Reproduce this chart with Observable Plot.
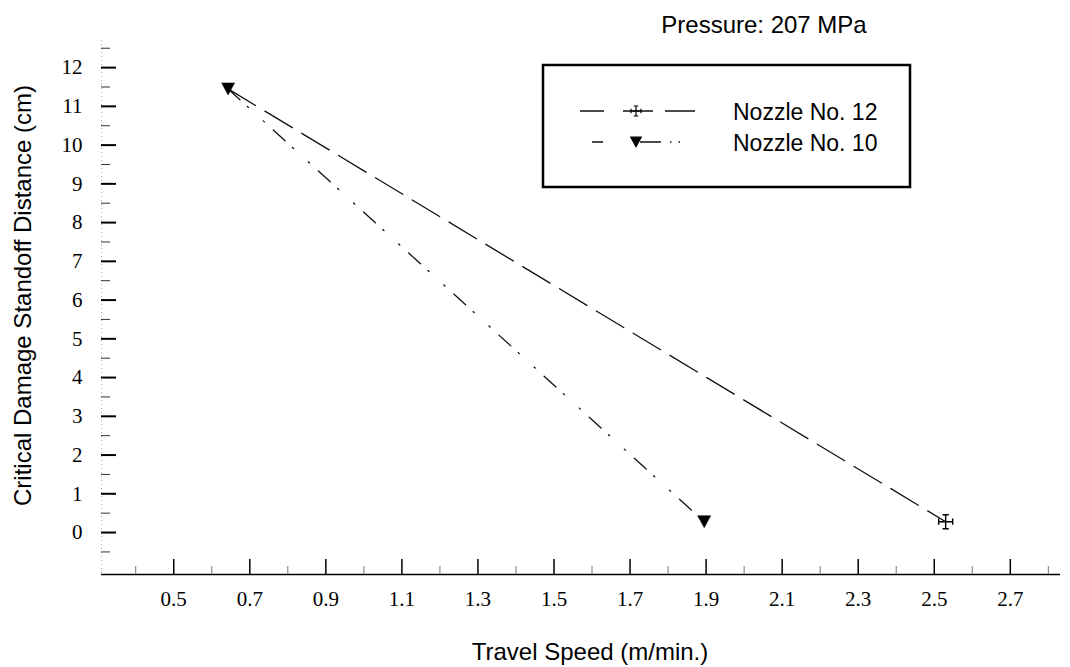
<!DOCTYPE html>
<html><head><meta charset="utf-8">
<script src="https://cdn.jsdelivr.net/npm/d3@7"></script>
<script src="https://cdn.jsdelivr.net/npm/@observablehq/plot@0.6"></script>
<style>html,body{margin:0;padding:0;background:#fff}svg{display:block}</style>
</head><body><div id="chart"></div>
<script>
// ---- data ----
const seriesNames = ["Nozzle No. 12", "Nozzle No. 10"];
const nozzle12Speed = [0.643, 2.53];
const nozzle12Distance = [11.45, 0.28];
const nozzle10Speed = [0.643, 1.895];
const nozzle10Distance = [11.45, 0.28];
const xTickValues = [0.5, 0.7, 0.9, 1.1, 1.3, 1.5, 1.7, 1.9, 2.1, 2.3, 2.5, 2.7];
const xMinorTickValues = [0.4, 0.6, 0.8, 1.0, 1.2, 1.4, 1.6, 1.8, 2.0, 2.2, 2.4, 2.6, 2.8];
const yTickValues = [0, 1, 2, 3, 4, 5, 6, 7, 8, 9, 10, 11, 12];
const yMinorTickValues = [-0.5, 0.5, 1.5, 2.5, 3.5, 4.5, 5.5, 6.5, 7.5, 8.5, 9.5, 10.5, 11.5, 12.5];
const xDomain = [0.31, 2.832];
const yDomain = [-1.083, 12.7];
const titleText = "Pressure: 207 MPa";
const xLabelText = "Travel Speed (m/min.)";
const yLabelText = "Critical Damage Standoff Distance (cm)";

// ---- build tables ----
const nozzle12 = nozzle12Speed.map((s, i) => ({speed: s, distance: nozzle12Distance[i], series: seriesNames[0]}));
const nozzle10 = nozzle10Speed.map((s, i) => ({speed: s, distance: nozzle10Distance[i], series: seriesNames[1]}));

// custom symbols
const crossWithCaps = {
  draw(ctx, size) {
    const r = Math.sqrt(size / Math.PI), c = r * 0.45;
    ctx.moveTo(-r, 0); ctx.lineTo(r, 0);
    ctx.moveTo(0, -r); ctx.lineTo(0, r);
    ctx.moveTo(-r, -c); ctx.lineTo(-r, c);
    ctx.moveTo(r, -c); ctx.lineTo(r, c);
    ctx.moveTo(-c, -r); ctx.lineTo(c, -r);
    ctx.moveTo(-c, r); ctx.lineTo(c, r);
  }
};
const triangleDown = {
  draw(ctx, size) {
    const r = Math.sqrt(size / Math.PI), w = 2.6 * r, h = 2.4 * r;
    ctx.moveTo(-w / 2, -h / 2); ctx.lineTo(w / 2, -h / 2); ctx.lineTo(0, h / 2); ctx.closePath();
  }
};

const W = 1070, H = 667, mL = 101, mR = 10, mT = 40, mB = 93;
const fw = W - mL - mR, fh = H - mT - mB;
const sans = "'Liberation Sans', Arial, sans-serif";
const serif = "'Liberation Serif', 'Times New Roman', serif";

const chart = Plot.plot({
  width: W, height: H,
  marginLeft: mL, marginRight: mR, marginTop: mT, marginBottom: mB,
  style: {background: "#fff", color: "#000"},
  x: {domain: xDomain},
  y: {domain: yDomain},
  marks: [
    // faint y axis line
    Plot.ruleX([xDomain[0]], {stroke: "#999", strokeWidth: 0.8, strokeDasharray: "1,3"}),
    // x axis line
    Plot.ruleY([yDomain[0]], {stroke: "#000", strokeWidth: 1.6}),
    // y ticks (inward)
    Plot.tickY(yTickValues, {y: d => d, insetRight: fw - 15, stroke: "#000", strokeWidth: 2}),
    Plot.tickY(yMinorTickValues, {y: d => d, insetRight: fw - 9, stroke: "#333", strokeWidth: 1}),
    // x ticks (inward)
    Plot.tickX(xTickValues, {x: d => d, insetTop: fh - 15, stroke: "#000", strokeWidth: 1.5}),
    Plot.tickX(xMinorTickValues, {x: d => d, insetTop: fh - 8, stroke: "#777", strokeWidth: 1}),
    // tick labels
    Plot.axisX(xTickValues, {tickSize: 0, tickPadding: 17, fontSize: 21, fontFamily: serif, tickFormat: d3.format(".1f"), label: null}),
    Plot.axisY(yTickValues, {tickSize: 0, tickPadding: 19, fontSize: 21, fontFamily: serif, label: null}),
    // lines
    Plot.line(nozzle12, {x: "speed", y: "distance", stroke: "#111", strokeWidth: 1.3, strokeDasharray: "32,11"}),
    Plot.line(nozzle10, {x: "speed", y: "distance", stroke: "#111", strokeWidth: 1.3, strokeDasharray: "16,10,1.5,20,1.5,12"}),
    // markers
    Plot.dot(nozzle12.slice(1), {x: "speed", y: "distance", symbol: crossWithCaps, r: 7, fill: "none", stroke: "#000", strokeWidth: 1.4}),
    Plot.dot(nozzle10, {x: "speed", y: "distance", symbol: triangleDown, r: 5, fill: "#000", stroke: "#000", strokeWidth: 0.5}),
    // titles
    Plot.text([titleText], {frameAnchor: "top", dx: 183, dy: -15, fontSize: 24, fontFamily: sans, lineAnchor: "middle", textAnchor: "middle"}),
    Plot.text([xLabelText], {frameAnchor: "bottom", dx: 9, dy: 78, fontSize: 24, fontFamily: sans, lineAnchor: "middle", textAnchor: "middle"}),
    Plot.text([yLabelText], {frameAnchor: "left", dx: -78, dy: -12, rotate: -90, fontSize: 24, fontFamily: sans, lineAnchor: "middle", textAnchor: "middle"})
  ]
});

// ---- legend box (drawn on the same svg) ----
const svg = d3.select(chart);
const lg = svg.append("g").attr("class", "legend").attr("text-anchor", "start");
lg.append("rect").attr("x", 543).attr("y", 65).attr("width", 367).attr("height", 122)
  .attr("fill", "none").attr("stroke", "#000").attr("stroke-width", 2.5);
const legendRows = [
  {name: seriesNames[0], y: 111, x1: 580, x2: 695, dash: "24,19,30,12,30", symbol: crossWithCaps, r: 5, fill: "none", stroke: "#000"},
  {name: seriesNames[1], y: 142, x1: 592, x2: 682, dash: "11,37,21,9,1.5,7,1.5", symbol: triangleDown, r: 4, fill: "#000", stroke: "#000"}
];
legendRows.forEach(row => {
  lg.append("line").attr("x1", row.x1).attr("x2", row.x2).attr("y1", row.y).attr("y2", row.y)
    .attr("stroke", "#111").attr("stroke-width", 1.3).attr("stroke-dasharray", row.dash);
  lg.append("path").attr("transform", `translate(636,${row.y})`)
    .attr("d", d3.symbol(row.symbol, row.r * row.r * Math.PI)())
    .attr("fill", row.fill).attr("stroke", row.stroke).attr("stroke-width", 1.2);
  lg.append("text").attr("x", 733).attr("y", row.y + 8.5).attr("text-anchor", "start")
    .attr("font-family", sans).attr("font-size", 23).attr("fill", "#000").text(row.name);
});

document.getElementById("chart").appendChild(chart);
</script>
</body></html>
